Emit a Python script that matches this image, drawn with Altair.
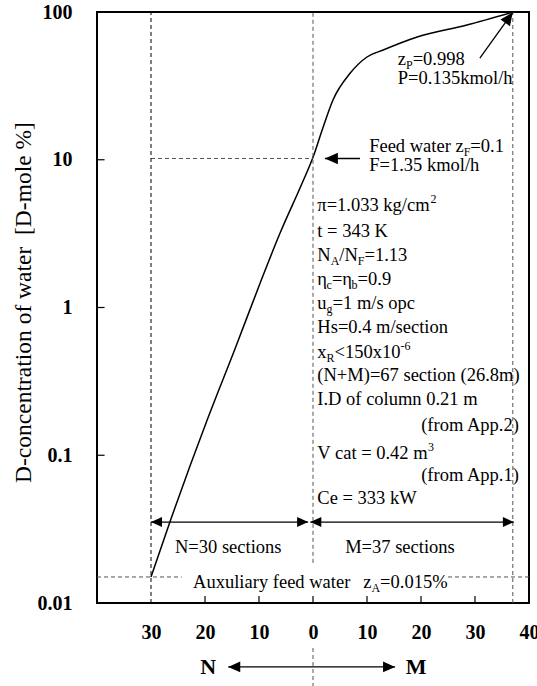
import altair as alt
import pandas as pd

# ---------------- data ----------------
# column profile: section number (N side negative, M side positive) vs D-concentration [%]
sections = [-30.0, -26.5, -19.6, -14.4, -9.8, -6.1, -2.0, 0.0, 1.7, 3.7, 6.9, 10.0, 13.0, 19.3, 28.5, 37.0]
conc = [0.015, 0.0353, 0.173, 0.53, 1.46, 3.19, 6.96, 10.4, 15.9, 25.4, 38.6, 49.6, 55.3, 67.7, 81.7, 99.8]

x_tick_values = [-30, -20, -10, 0, 10, 20, 30, 40]
y_tick_values = [0.01, 0.1, 1, 10, 100]
y_title = "D-concentration of water\u00a0\u00a0[D-mole %]"

# key levels
n_sections, m_sections = 30, 37
feed_conc = 10.2
aux_conc = 0.015

# parameter block (left-aligned at x=0.8 unless noted)
param_lines = [
    (4.94, "left", [("n", "π=1.033 kg/cm"), ("sup", "2")]),
    (3.29, "left", [("n", "t = 343 K")]),
    (2.27, "left", [("n", "N"), ("sub", "A"), ("n", "/N"), ("sub", "F"), ("n", "=1.13")]),
    (1.56, "left", [("n", "η"), ("sub", "c"), ("n", "=η"), ("sub", "b"), ("n", "=0.9")]),
    (1.07, "left", [("n", "u"), ("sub", "g"), ("n", "=1 m/s opc")]),
    (0.738, "left", [("n", "Hs=0.4 m/section")]),
    (0.500, "left", [("n", "x"), ("sub", "R"), ("n", "<150x10"), ("sup", "-6")]),
    (0.349, "left", [("n", "(N+M)=67 section (26.8m)")]),
    (0.240, "left", [("n", "I.D of column 0.21 m")]),
    (0.160, "right", [("n", "(from App.2)")]),
    (0.1036, "left", [("n", "V cat = 0.42 m"), ("sup", "3")]),
    (0.0735, "right", [("n", "(from App.1)")]),
    (0.0514, "left", [("n", "Ce = 333 kW")]),
]
other_lines = [
    (15.7, 48.1, "left", [("n", "z"), ("sub", "P"), ("n", "=0.998")]),
    (15.7, 35.7, "left", [("n", "P=0.135kmol/h")]),
    (10.4, 12.4, "left", [("n", "Feed water z"), ("sub", "F"), ("n", "=0.1")]),
    (10.4, 9.21, "left", [("n", "F=1.35 kmol/h")]),
    (-22.2, 0.01387, "left", [("n", "Auxuliary feed water")]),
    (9.3, 0.01387, "left", [("n", "z"), ("sub", "A"), ("n", "=0.015%")]),
    (-15.7, 0.0239, "center", [("n", "N=30 sections")]),
    (16.1, 0.0239, "center", [("n", "M=37 sections")]),
]
bottom_labels = ["N", "M"]
bottom_label_x = [-19.4, 19.1]
bottom_label_y = 0.00369

# ---------------- layout constants ----------------
PLOT_W, PLOT_H = 432, 591
X_MIN, X_MAX = -40, 40
Y_MIN, Y_MAX = 0.01, 100
PX_PER_UNIT = PLOT_W / (X_MAX - X_MIN)
FONT = "Liberation Serif"
FS = 18.5
SMALL_FS = 12

# Times / Liberation Serif advance widths (1/1000 em)
W = {' ': 250, '%': 833, '(': 333, ')': 333, '+': 564, '-': 333, '.': 250, '/': 278,
     '<': 564, '=': 564, 'A': 722, 'C': 667, 'D': 722, 'F': 556, 'H': 722, 'I': 333,
     'K': 722, 'M': 889, 'N': 722, 'P': 556, 'R': 667, 'V': 722, 'W': 944, 'a': 444,
     'b': 500, 'c': 444, 'd': 500, 'e': 444, 'f': 333, 'g': 500, 'h': 500, 'i': 278,
     'k': 500, 'l': 278, 'm': 778, 'n': 500, 'o': 500, 'p': 500, 'r': 333, 's': 389,
     't': 278, 'u': 500, 'w': 722, 'x': 500, 'y': 500, 'z': 444, 'π': 549, 'η': 500}
for d in "0123456789":
    W[d] = 500


def text_width(s, size):
    return sum(W.get(ch, 500) for ch in s) * size / 1000.0


def fragments(lines):
    rows = []
    for x0, y, align, frags in lines:
        sizes = [FS if k == "n" else SMALL_FS for k, _ in frags]
        total = sum(text_width(t, s) for (k, t), s in zip(frags, sizes))
        cur = -total if align == "right" else (-total / 2 if align == "center" else 0.0)
        for (k, t), s in zip(frags, sizes):
            rows.append({"x": x0 + cur / PX_PER_UNIT, "y": y, "kind": k, "text": t})
            cur += text_width(t, s)
    return rows


rows = fragments([(0.8 if a == "left" else 38.3, y, a, f) for y, a, f in param_lines])
rows += fragments(other_lines)
text_df = pd.DataFrame(rows)

xs = alt.Scale(domain=[X_MIN, X_MAX], nice=False, zero=False)
ys = alt.Scale(type="log", domain=[Y_MIN, Y_MAX], nice=False)

label_expr = ("datum.value < 0 ? format(-datum.value, 'd') + '\u00a0\u00a0\u00a0' "
              ": format(datum.value, 'd')")

X_AXIS = alt.Axis(values=x_tick_values, labelExpr=label_expr, grid=False, ticks=False,
                  tickSize=0, domain=False, labelPadding=19, labelFontSize=20,
                  labelFont=FONT, labelFontWeight="bold", labelColor="black",
                  labelFlush=False, labelOverlap=False)
Y_AXIS = alt.Axis(values=y_tick_values, format="~g", grid=False, ticks=False, tickSize=0,
                  domain=False, labelPadding=25, labelFontSize=20, labelFont=FONT,
                  labelFontWeight="bold", labelColor="black", labelFlush=False,
                  labelOverlap=False, titleFont=FONT, titleFontSize=23.5,
                  titleFontWeight="normal", titleColor="black", titleAngle=270,
                  titleX=-74, titleY=290, titleAlign="center", titleBaseline="middle")


def X(f="x"):
    return alt.X(f"{f}:Q", scale=xs, axis=X_AXIS, title=None)


def Y(f="y"):
    return alt.Y(f"{f}:Q", scale=ys, axis=Y_AXIS, title=y_title)


curve_df = pd.DataFrame({"x": sections, "y": conc})
curve = alt.Chart(curve_df).mark_line(color="black", strokeWidth=1.5, interpolate="monotone").encode(
    x=X(), y=Y())

# dashed guide lines
dash_black = pd.DataFrame({"x": [-n_sections], "x2": [-n_sections], "y": [Y_MIN], "y2": [Y_MAX]})
dash_gray = pd.DataFrame({
    "x": [0, m_sections, -n_sections, X_MIN, 25.0, 0],
    "x2": [0, m_sections, 0, -24.3, X_MAX, 0],
    "y": [0.0187, Y_MIN, feed_conc, aux_conc, aux_conc, 0.00496],
    "y2": [Y_MAX, Y_MAX, feed_conc, aux_conc, aux_conc, 0.00274],
})
rules_black = alt.Chart(dash_black).mark_rule(color="black", strokeWidth=1, strokeDash=[4, 3]).encode(
    x=X(), x2="x2:Q", y=Y(), y2="y2:Q")
rules_gray = alt.Chart(dash_gray).mark_rule(color="#555555", strokeWidth=1, strokeDash=[4, 3]).encode(
    x=X(), x2="x2:Q", y=Y(), y2="y2:Q")

# inward ticks
xt = pd.DataFrame({"x": [-20, -10, 0, 10, 20, 30]})
xt["x2"] = xt["x"]
xt["y"] = Y_MIN
xt["y2"] = 0.01115
yt = pd.DataFrame({"y": [0.1, 1, 10]})
yt["y2"] = yt["y"]
yt["x"] = X_MIN
yt["x2"] = X_MIN + 1.4
ticks_x = alt.Chart(xt).mark_rule(color="black", strokeWidth=1.2).encode(x=X(), x2="x2:Q", y=Y(), y2="y2:Q")
ticks_y = alt.Chart(yt).mark_rule(color="black", strokeWidth=1.2).encode(x=X(), x2="x2:Q", y=Y(), y2="y2:Q")

# arrow shafts
shafts = pd.DataFrame({
    "x": [-30.0, -0.5, 2.2, 30.9, -15.7],
    "x2": [-0.9, 37.2, 8.7, 37.0, 15.2],
    "y": [0.0353, 0.0353, feed_conc, 48.8, bottom_label_y],
    "y2": [0.0353, 0.0353, feed_conc, 99.5, bottom_label_y],
})
shaft_layer = alt.Chart(shafts).mark_rule(color="black", strokeWidth=1.3).encode(
    x=X(), x2="x2:Q", y=Y(), y2="y2:Q")

# arrow heads (tip at the point, rotated clockwise from "up")
heads = pd.DataFrame({
    "x": [-30.0, -0.9, -0.5, 37.2, 2.2, 37.0, -15.7, 15.2],
    "y": [0.0353, 0.0353, 0.0353, 0.0353, feed_conc, 99.5, bottom_label_y, bottom_label_y],
    "angle": [270, 90, 270, 90, 270, 35.6, 270, 90],
    "size": [484, 484, 484, 484, 676, 676, 576, 576],
})
head_layer = alt.Chart(heads).mark_point(
    shape="M0,0 L-0.45,1 L0.45,1 Z", filled=True, color="black", opacity=1, strokeWidth=0
).encode(x=X(), y=Y(), angle=alt.Angle("angle:Q", scale=None),
         size=alt.Size("size:Q", scale=None, legend=None))

# annotation text
base_text = alt.Chart(text_df)
txt_n = base_text.transform_filter("datum.kind == 'n'").mark_text(
    align="left", baseline="middle", font=FONT, fontSize=FS, color="black").encode(
    x=X(), y=Y(), text="text:N")
txt_sub = base_text.transform_filter("datum.kind == 'sub'").mark_text(
    align="left", baseline="middle", font=FONT, fontSize=SMALL_FS, color="black", dy=6).encode(
    x=X(), y=Y(), text="text:N")
txt_sup = base_text.transform_filter("datum.kind == 'sup'").mark_text(
    align="left", baseline="middle", font=FONT, fontSize=SMALL_FS, color="black", dy=-6).encode(
    x=X(), y=Y(), text="text:N")

nm_df = pd.DataFrame({"x": bottom_label_x, "y": [bottom_label_y] * 2, "text": bottom_labels})
nm_layer = alt.Chart(nm_df).mark_text(
    align="center", baseline="middle", font=FONT, fontSize=22, fontWeight="bold", color="black").encode(
    x=X(), y=Y(), text="text:N")

chart = alt.layer(
    curve, rules_gray, rules_black, ticks_x, ticks_y, shaft_layer, head_layer,
    txt_n, txt_sub, txt_sup, nm_layer
).properties(
    width=PLOT_W, height=PLOT_H,
    autosize=alt.AutoSizeParams(type="none"),
    padding={"left": 97, "top": 12, "right": 8, "bottom": 83},
    background="white",
).configure_view(stroke="black", strokeWidth=2)

chart.save("out.html", embed_options={"renderer": "svg", "actions": False})
